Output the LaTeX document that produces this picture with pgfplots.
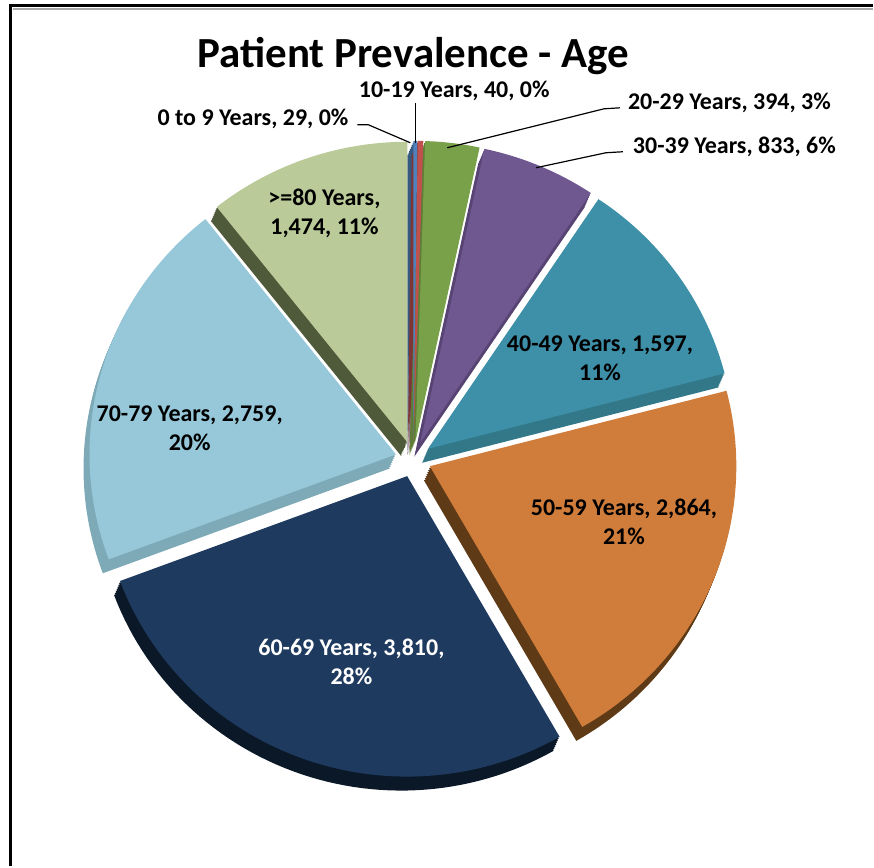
\documentclass[border=0pt]{standalone}
\usepackage{pgfplots}
\pgfplotsset{compat=1.18}
\usepackage{fontspec}
\setmainfont{Carlito}
% top-face colours
\definecolor{c1}{HTML}{4F81BD}
\definecolor{c2}{HTML}{C0504D}
\definecolor{c3}{HTML}{79A14A}
\definecolor{c4}{HTML}{6F578F}
\definecolor{c5}{HTML}{3E8FA8}
\definecolor{c6}{HTML}{D07D3B}
\definecolor{c7}{HTML}{1F3A5F}
\definecolor{c8}{HTML}{96C8DA}
\definecolor{c9}{HTML}{BACA98}
% side colours
\definecolor{s1}{HTML}{36597F}
\definecolor{s2}{HTML}{7F3533}
\definecolor{s3}{HTML}{5E7E37}
\definecolor{s4}{HTML}{574473}
\definecolor{s5}{HTML}{327888}
\definecolor{s6}{HTML}{5E3A17}
\definecolor{s7}{HTML}{0B1828}
\definecolor{s8}{HTML}{7EAAB8}
\definecolor{s9}{HTML}{4E5A3A}
\def\Total{13800}
\def\CX{414}\def\CY{460}\def\RX{307}\def\RY{301}\def\EXP{18}
\def\DX{-6}\def\DY{14}\def\NS{7}
\newcommand\pwedge[3]{%
  \edef\next{\noexpand\addplot[fill=#3, draw=none, domain=\aA:\aB, samples=60, forget plot]
    ({#1+\RX*sin(x)},{#2-\RY*cos(x)}) -- (axis cs:#1,#2) -- cycle;}\next}
\newcommand\pieslice[3]{% #1 value, #2 colour, #3 1=side 0=top
  \pgfmathsetmacro\aA{\cum/\Total*360}%
  \pgfmathsetmacro\cumnew{\cum+#1}%
  \pgfmathsetmacro\aB{\cumnew/\Total*360}%
  \xdef\cum{\cumnew}%
  \pgfmathsetmacro\amid{(\aA+\aB)/2}%
  \pgfmathsetmacro\ox{\CX+\EXP*sin(\amid)}%
  \pgfmathsetmacro\oy{\CY-\EXP*cos(\amid)}%
  \ifnum#3=1
    \foreach \s in {1,...,\NS}{%
      \pgfmathsetmacro\px{\ox+\DX*\s/\NS}%
      \pgfmathsetmacro\py{\oy+\DY*\s/\NS}%
      \pwedge{\px}{\py}{#2}}%
  \else
    \pwedge{\ox}{\oy}{#2}%
  \fi}
\begin{document}
\begin{tikzpicture}
\begin{axis}[scale only axis, width=437pt, height=433.5pt,
  xmin=0, xmax=874, ymin=0, ymax=867, y dir=reverse,
  hide axis, clip=false]
% full picture area (bounding box)
\path (axis cs:0,0) rectangle (axis cs:874,867);
% sides
\gdef\cum{0}
\pieslice{29}{s1}{1}
\pieslice{40}{s2}{1}
\pieslice{394}{s3}{1}
\pieslice{833}{s4}{1}
\pieslice{1597}{s5}{1}
\pieslice{2864}{s6}{1}
\pieslice{3810}{s7}{1}
\pieslice{2759}{s8}{1}
\pieslice{1474}{s9}{1}
% tops
\gdef\cum{0}
\pieslice{29}{c1}{0}
\pieslice{40}{c2}{0}
\pieslice{394}{c3}{0}
\pieslice{833}{c4}{0}
\pieslice{1597}{c5}{0}
\pieslice{2864}{c6}{0}
\pieslice{3810}{c7}{0}
\pieslice{2759}{c8}{0}
\pieslice{1474}{c9}{0}
% frame
\draw[black, line width=1.5pt] (axis cs:11,867) -- (axis cs:11,5.5) -- (axis cs:874,5.5);
\draw[black!35, line width=1pt] (axis cs:13,9) -- (axis cs:874,9);
% leader lines
\addplot[black, line width=0.6pt, forget plot] coordinates {(358,125) (369,125) (411,143)};
\addplot[black, line width=0.6pt, forget plot] coordinates {(416,103) (416,143)};
\addplot[black, line width=0.6pt, forget plot] coordinates {(448,148) (605,109) (621,108)};
\addplot[black, line width=0.6pt, forget plot] coordinates {(537,168) (607,153) (624,152)};
% title
\node[anchor=base, font=\bfseries\fontsize{21.5}{25}\selectfont] at (axis cs:414,68) {Patient Prevalence - Age};
% labels
\node[anchor=base east, font=\bfseries\fontsize{12}{14.5}\selectfont] at (axis cs:356,126) {0 to 9 Years, 29, 0\%};
\node[anchor=base, font=\bfseries\fontsize{12}{14.5}\selectfont] at (axis cs:455,98) {10-19 Years, 40, 0\%};
\node[anchor=base west, font=\bfseries\fontsize{12}{14.5}\selectfont] at (axis cs:622,110) {20-29 Years, 394, 3\%};
\node[anchor=base west, font=\bfseries\fontsize{12}{14.5}\selectfont] at (axis cs:627,154) {30-39 Years, 833, 6\%};
\node[align=center, font=\bfseries\fontsize{12}{14.5}\selectfont] at (axis cs:325,214) {>=80 Years,\\1,474, 11\%};
\node[align=center, font=\bfseries\fontsize{12}{14.5}\selectfont] at (axis cs:601,359) {40-49 Years, 1,597,\\11\%};
\node[align=center, font=\bfseries\fontsize{12}{14.5}\selectfont] at (axis cs:190,429) {70-79 Years, 2,759,\\20\%};
\node[align=center, font=\bfseries\fontsize{12}{14.5}\selectfont] at (axis cs:625,523) {50-59 Years, 2,864,\\21\%};
\node[align=center, text=white, font=\bfseries\fontsize{12}{14.5}\selectfont] at (axis cs:352,663) {60-69 Years, 3,810,\\28\%};
\end{axis}
\end{tikzpicture}
\end{document}
